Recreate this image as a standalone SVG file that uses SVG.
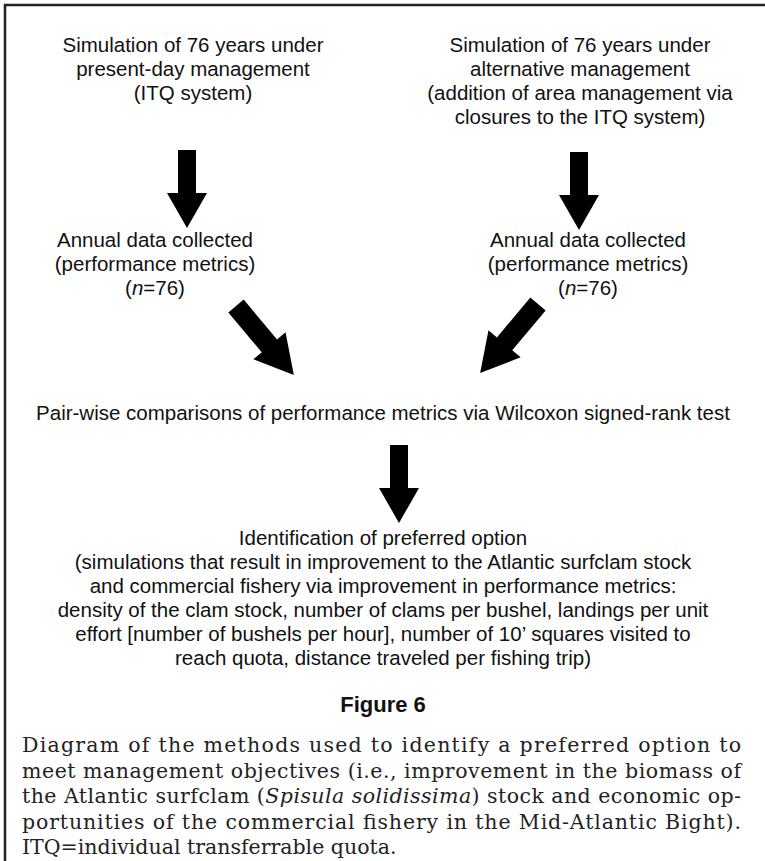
<svg xmlns="http://www.w3.org/2000/svg" width="765" height="861" viewBox="0 0 765 861">
<style>
.t{font-family:"Liberation Sans",Arial,sans-serif;font-size:20.5px;fill:#111;text-anchor:middle}
.cap{font-family:"DejaVu Serif","Liberation Serif",serif;font-size:20.5px;fill:#222}
.fig{font-family:"Liberation Sans",Arial,sans-serif;font-size:22px;font-weight:bold;fill:#111;text-anchor:middle}
.arr{fill:#000}
</style>
<defs>
<path id="arrow" d="M-9,0 L9,0 L9,43 L20,43 L0,78 L-20,43 L-9,43 Z"/>
<path id="arrow-diag" d="M-10,0 L10,0 L10,52 L21,52 L0,90 L-21,52 L-10,52 Z"/>
</defs>
<rect width="765" height="861" fill="#fff"/>
<path d="M5,861 L5,5 L765,5" fill="none" stroke="#222" stroke-width="2.5"/>
<g id="sim-present">
<text class="t" x="193" y="52">Simulation of 76 years under</text>
<text class="t" x="193" y="76">present-day management</text>
<text class="t" x="193" y="100">(ITQ system)</text>
</g>
<g id="sim-alternative">
<text class="t" x="580" y="52">Simulation of 76 years under</text>
<text class="t" x="580" y="76">alternative management</text>
<text class="t" x="580" y="100">(addition of area management via</text>
<text class="t" x="580" y="124">closures to the ITQ system)</text>
</g>
<g id="data-present">
<text class="t" x="155" y="247">Annual data collected</text>
<text class="t" x="155" y="271">(performance metrics)</text>
<text class="t" x="155" y="295">(<tspan font-style="italic">n</tspan>=76)</text>
</g>
<g id="data-alternative">
<text class="t" x="588" y="247">Annual data collected</text>
<text class="t" x="588" y="271">(performance metrics)</text>
<text class="t" x="588" y="295">(<tspan font-style="italic">n</tspan>=76)</text>
</g>
<g id="comparison">
<text class="t" x="383" y="420">Pair-wise comparisons of performance metrics via Wilcoxon signed-rank test</text>
</g>
<g id="preferred-option">
<text class="t" x="383" y="545">Identification of preferred option</text>
<text class="t" x="383" y="569">(simulations that result in improvement to the Atlantic surfclam stock</text>
<text class="t" x="383" y="593">and commercial fishery via improvement in performance metrics:</text>
<text class="t" x="383" y="617">density of the clam stock, number of clams per bushel, landings per unit</text>
<text class="t" x="383" y="641">effort [number of bushels per hour], number of 10’ squares visited to</text>
<text class="t" x="383" y="665">reach quota, distance traveled per fishing trip)</text>
</g>
<g id="connectors" class="arr">
<use href="#arrow" transform="translate(187,150)"/>
<use href="#arrow" transform="translate(579,152)"/>
<use href="#arrow-diag" transform="translate(236,306) rotate(-40)"/>
<use href="#arrow-diag" transform="translate(538,304) rotate(40)"/>
<use href="#arrow" transform="translate(399,445)"/>
</g>
<g id="caption">
<text class="fig" x="383" y="712">Figure 6</text>
<text class="cap" x="22" y="752" textLength="719">Diagram of the methods used to identify a preferred option to</text>
<text class="cap" x="22" y="778" textLength="719">meet management objectives (i.e., improvement in the biomass of</text>
<text class="cap" x="22" y="803" textLength="719">the Atlantic surfclam (<tspan font-style="italic">Spisula solidissima</tspan>) stock and economic op-</text>
<text class="cap" x="22" y="829" textLength="719">portunities of the commercial fishery in the Mid-Atlantic Bight).</text>
<text class="cap" x="22" y="854">ITQ=individual transferrable quota.</text>
</g>
</svg>
